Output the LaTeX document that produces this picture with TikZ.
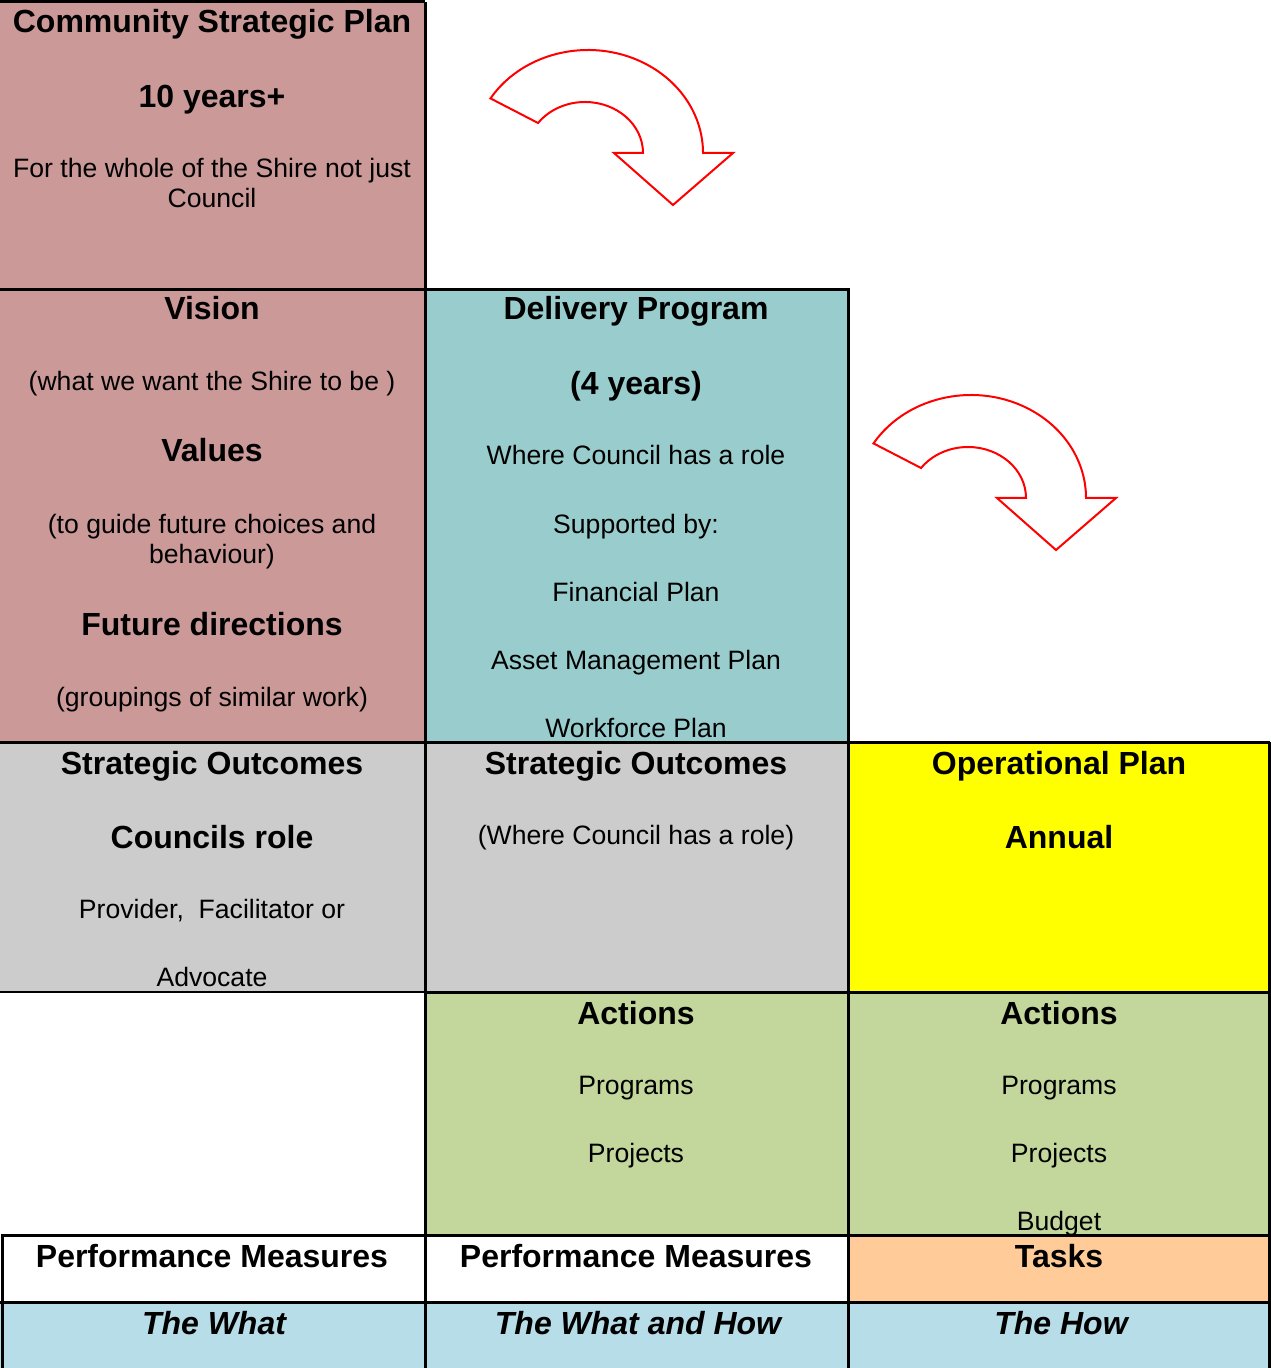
\documentclass[tikz,border=0pt]{standalone}
\usepackage{fontspec}
\setmainfont{Liberation Sans}
\usepackage{xcolor}
\usepackage{tikz}

\definecolor{planpink}{RGB}{204,153,153}
\definecolor{progteal}{RGB}{153,204,204}
\definecolor{outgray}{RGB}{204,204,204}
\definecolor{opyellow}{RGB}{255,255,0}
\definecolor{actgreen}{RGB}{195,214,155}
\definecolor{taskpeach}{RGB}{255,204,153}
\definecolor{howblue}{RGB}{183,221,232}

\begin{document}
\begin{tikzpicture}[x=0.5pt,y=-0.5pt,
    hd/.style={anchor=base,inner sep=0pt,font=\bfseries\fontsize{16}{19}\selectfont},
    txt/.style={anchor=base,inner sep=0pt,font=\fontsize{13.3}{16}\selectfont},
    how/.style={anchor=base,inner sep=0pt,font=\bfseries\itshape\fontsize{16}{19}\selectfont},
    rule/.style={line width=1.5pt},
    turn/.style={draw=red,line width=1pt,fill=white}]

    \useasboundingbox (0,0) rectangle (1270,1368);

    % cells
    \fill[planpink] (0,2) rectangle (425,742);
    \fill[progteal] (425,290) rectangle (848,742);
    \fill[outgray] (0,742) rectangle (848,992);
    \fill[opyellow] (848,742) rectangle (1270,992);
    \fill[actgreen] (425,992) rectangle (1270,1235);
    \fill[taskpeach] (848,1235) rectangle (1270,1302);
    \fill[howblue] (0,1302) rectangle (1270,1368);

    % grid lines
    \draw[rule] (0,2) -- (425,2);
    \draw[rule] (425,2) -- (425,1368);
    \draw[rule] (0,290) -- (848,290) -- (848,1368);
    \draw[rule] (0,742) -- (1270,742);
    \draw[line width=1pt] (0,992) -- (425,992);
    \draw[rule] (425,992) -- (1270,992);
    \draw[rule] (2,1368) -- (2,1235) -- (1270,1235);
    \draw[rule] (0,1302) -- (1270,1302);
    \draw[rule] (1269,742) -- (1269,1368);

    % curved arrows
    \foreach \dx/\dy in {0/0,383/345}{
        \draw[turn,shift={(\dx,\dy)}] (588,153) ++(-148:115 and 103)
            arc[start angle=-148,end angle=0,x radius=115,y radius=103]
            -- (733,153) -- (673,205) -- (614,153) -- (643,153)
            arc[start angle=0,end angle=-144,x radius=58,y radius=51] -- cycle;
    }

    % community strategic plan
    \node[hd] (csp) at (212,33) {Community Strategic Plan};
    \node[hd] (cspyears) at (212,108) {10 years+};
    \node[txt] (shire) at (212,178) {For the whole of the Shire not just};
    \node[txt] (shirec) at (212,208) {Council};

    \node[hd] (vision) at (212,320) {Vision};
    \node[txt] (visiontxt) at (212,391) {(what we want the Shire to be )};
    \node[hd] (values) at (212,462) {Values};
    \node[txt] (valuestxt) at (212,533) {(to guide future choices and};
    \node[txt] (valuestxtb) at (212,563) {behaviour)};
    \node[hd] (future) at (212,635) {Future directions};
    \node[txt] (futuretxt) at (212,706) {(groupings of similar work)};

    % delivery program
    \node[hd] (dp) at (636,320) {Delivery Program};
    \node[hd] (dpyears) at (636,395) {(4 years)};
    \node[txt] (dprole) at (636,465) {Where Council has a role};
    \node[txt] (dpsup) at (636,533) {Supported by:};
    \node[txt] (dpfin) at (636,601) {Financial Plan};
    \node[txt] (dpasset) at (636,669) {Asset Management Plan};
    \node[txt] (dpwork) at (636,737) {Workforce Plan};

    % strategic outcomes
    \node[hd] (so) at (212,774) {Strategic Outcomes};
    \node[hd] (sorole) at (212,848) {Councils role};
    \node[txt] (soprov) at (212,918) {Provider,\ \ Facilitator or};
    \node[txt] (soadv) at (212,986) {Advocate};

    \node[hd] (sob) at (636,774) {Strategic Outcomes};
    \node[txt] (sobrole) at (636,844) {(Where Council has a role)};

    % operational plan
    \node[hd] (op) at (1059,774) {Operational Plan};
    \node[hd] (opannual) at (1059,848) {Annual};

    % actions
    \node[hd] (act) at (636,1024) {Actions};
    \node[txt] (actprog) at (636,1094) {Programs};
    \node[txt] (actproj) at (636,1162) {Projects};

    \node[hd] (actb) at (1059,1024) {Actions};
    \node[txt] (actbprog) at (1059,1094) {Programs};
    \node[txt] (actbproj) at (1059,1162) {Projects};
    \node[txt] (actbbud) at (1059,1230) {Budget};

    % measures and tasks
    \node[hd] (pm) at (212,1267) {Performance Measures};
    \node[hd] (pmb) at (636,1267) {Performance Measures};
    \node[hd] (tasks) at (1059,1267) {Tasks};

    \node[how] (what) at (214,1334) {The What};
    \node[how] (whathow) at (638,1334) {The What and How};
    \node[how] (thehow) at (1061,1334) {The How};
\end{tikzpicture}
\end{document}
